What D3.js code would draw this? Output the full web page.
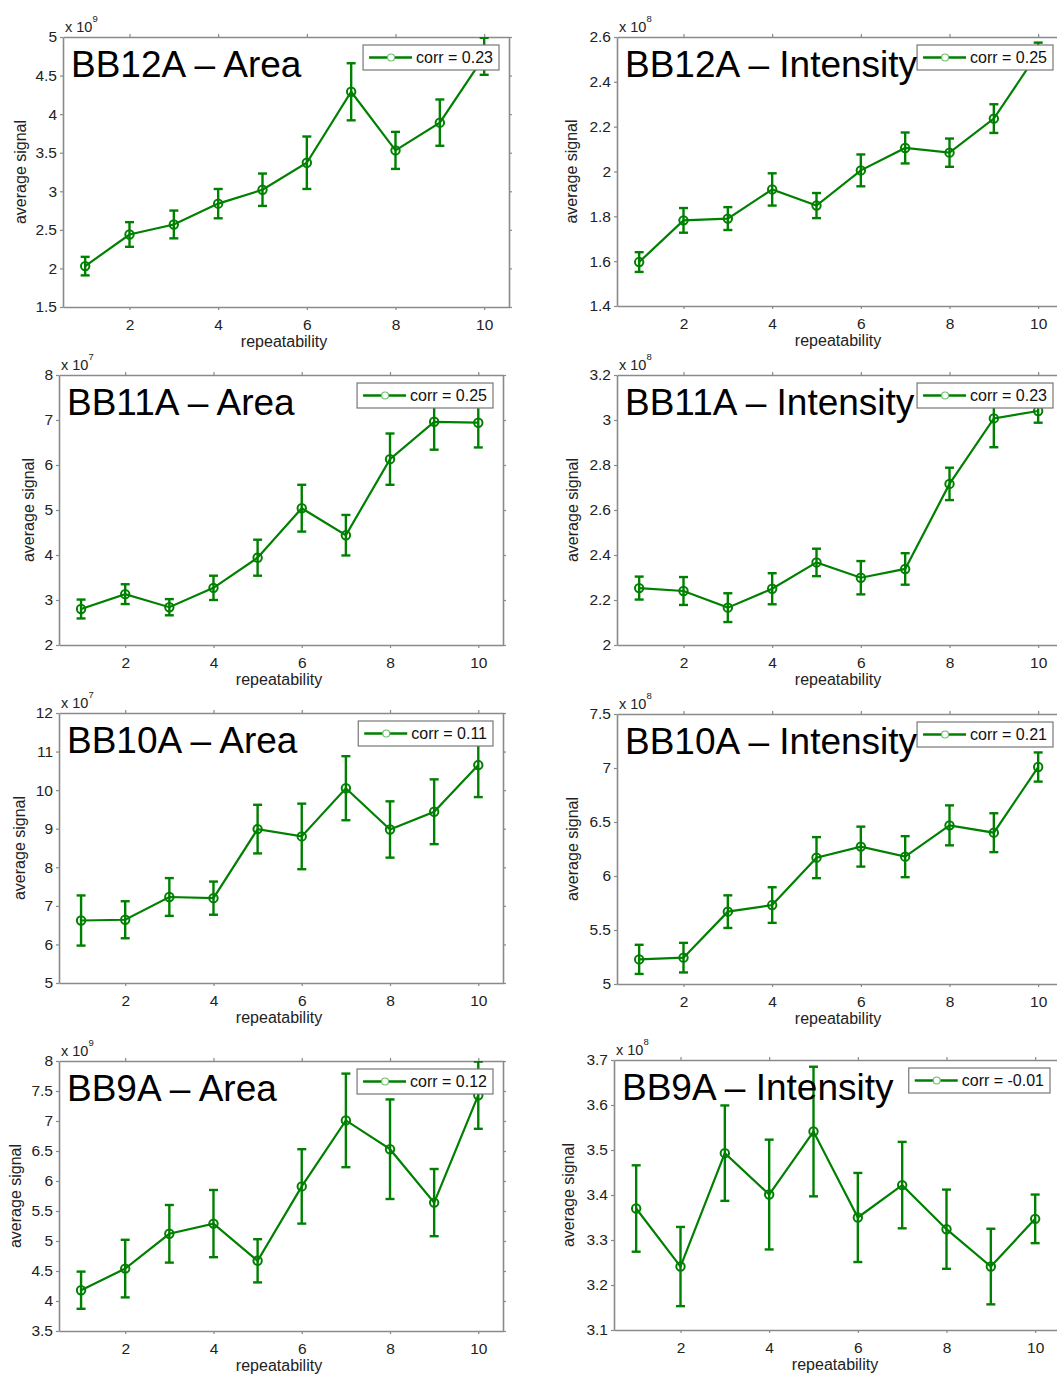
<!DOCTYPE html>
<html>
<head>
<meta charset="utf-8">
<script src="https://cdn.jsdelivr.net/npm/d3@7"></script>
<style>
  html, body { margin: 0; padding: 0; background: #fff; }
  svg { display: block; font-family: "Liberation Sans", Arial, Helvetica, sans-serif; }
</style>
</head>
<body>
<svg id="chart" width="1057" height="1378"></svg>
<script>
// ---------------- data ----------------
const repeatability = [1, 2, 3, 4, 5, 6, 7, 8, 9, 10];
const xTickValues = [2, 4, 6, 8, 10];

const panelTitles = ["BB12A \u2013 Area", "BB12A \u2013 Intensity", "BB11A \u2013 Area", "BB11A \u2013 Intensity",
                     "BB10A \u2013 Area", "BB10A \u2013 Intensity", "BB9A \u2013 Area", "BB9A \u2013 Intensity"];
const corrLabels = ["corr = 0.23", "corr = 0.25", "corr = 0.25", "corr = 0.23",
                    "corr = 0.11", "corr = 0.21", "corr = 0.12", "corr = -0.01"];
const exponents = [9, 8, 7, 8, 7, 8, 9, 8];

// mean values (in units of 10^exponent) and error half-widths
const bb12aAreaMean = [2.03, 2.44, 2.57, 2.84, 3.02, 3.37, 4.29, 3.53, 3.89, 4.75];
const bb12aAreaErr  = [0.12, 0.16, 0.18, 0.19, 0.21, 0.34, 0.37, 0.24, 0.30, 0.24];
const bb12aIntMean  = [1.596, 1.782, 1.790, 1.920, 1.848, 2.005, 2.105, 2.084, 2.236, 2.53];
const bb12aIntErr   = [0.044, 0.055, 0.051, 0.072, 0.056, 0.071, 0.069, 0.063, 0.064, 0.045];
const bb11aAreaMean = [2.80, 3.13, 2.84, 3.27, 3.94, 5.04, 4.44, 6.13, 6.96, 6.94];
const bb11aAreaErr  = [0.21, 0.22, 0.18, 0.27, 0.40, 0.52, 0.45, 0.57, 0.62, 0.55];
const bb11aIntMean  = [2.253, 2.240, 2.166, 2.250, 2.367, 2.299, 2.338, 2.716, 3.007, 3.040];
const bb11aIntErr   = [0.051, 0.062, 0.064, 0.069, 0.061, 0.074, 0.070, 0.072, 0.128, 0.052];
const bb10aAreaMean = [6.62, 6.64, 7.23, 7.20, 8.99, 8.80, 10.05, 8.98, 9.44, 10.65];
const bb10aAreaErr  = [0.65, 0.48, 0.49, 0.43, 0.63, 0.85, 0.83, 0.73, 0.84, 0.83];
const bb10aIntMean  = [5.228, 5.244, 5.670, 5.731, 6.170, 6.272, 6.179, 6.469, 6.401, 7.009];
const bb10aIntErr   = [0.135, 0.137, 0.151, 0.165, 0.19, 0.185, 0.19, 0.185, 0.18, 0.135];
const bb9aAreaMean  = [4.18, 4.54, 5.12, 5.29, 4.67, 5.91, 7.01, 6.53, 5.64, 7.43];
const bb9aAreaErr   = [0.31, 0.48, 0.48, 0.56, 0.36, 0.62, 0.78, 0.83, 0.56, 0.56];
const bb9aIntMean   = [3.370, 3.241, 3.493, 3.401, 3.541, 3.350, 3.422, 3.324, 3.241, 3.347];
const bb9aIntErr    = [0.096, 0.088, 0.106, 0.122, 0.144, 0.099, 0.096, 0.088, 0.084, 0.054];

// y tick labels for each panel
const yTicks12Area = ["1.5", "2", "2.5", "3", "3.5", "4", "4.5", "5"];
const yTicks12Int  = ["1.4", "1.6", "1.8", "2", "2.2", "2.4", "2.6"];
const yTicks11Area = ["2", "3", "4", "5", "6", "7", "8"];
const yTicks11Int  = ["2", "2.2", "2.4", "2.6", "2.8", "3", "3.2"];
const yTicks10Area = ["5", "6", "7", "8", "9", "10", "11", "12"];
const yTicks10Int  = ["5", "5.5", "6", "6.5", "7", "7.5"];
const yTicks9Area  = ["3.5", "4", "4.5", "5", "5.5", "6", "6.5", "7", "7.5", "8"];
const yTicks9Int   = ["3.1", "3.2", "3.3", "3.4", "3.5", "3.6", "3.7"];

const means = [bb12aAreaMean, bb12aIntMean, bb11aAreaMean, bb11aIntMean, bb10aAreaMean, bb10aIntMean, bb9aAreaMean, bb9aIntMean];
const errs  = [bb12aAreaErr, bb12aIntErr, bb11aAreaErr, bb11aIntErr, bb10aAreaErr, bb10aIntErr, bb9aAreaErr, bb9aIntErr];
const yTicks = [yTicks12Area, yTicks12Int, yTicks11Area, yTicks11Int, yTicks10Area, yTicks10Int, yTicks9Area, yTicks9Int];

// ---------------- layout (pixels) ----------------
const layout = [
  {left: 63,  top: 37,   w: 446, h: 270, ylab: 20},
  {left: 617, top: 37,   w: 446, h: 269, ylab: 571},
  {left: 59,  top: 375,  w: 444, h: 270, ylab: 28},
  {left: 617, top: 375,  w: 446, h: 270, ylab: 572},
  {left: 59,  top: 713,  w: 444, h: 270, ylab: 19},
  {left: 617, top: 714,  w: 446, h: 270, ylab: 572},
  {left: 59,  top: 1061, w: 444, h: 270, ylab: 15},
  {left: 614, top: 1060, w: 446, h: 270, ylab: 568}
];

const GREEN = "#008000";
const AXIS = "#8a8a8a";
const TEXT = "#222";
const FONT = "'Liberation Sans', Arial, sans-serif";

const svg = d3.select("#chart");

layout.forEach((L, i) => {
  const tickVals = yTicks[i].map(Number);
  const x = d3.scaleLinear().domain([0.5, 10.56]).range([L.left, L.left + L.w]);
  const y = d3.scaleLinear().domain(d3.extent(tickVals)).range([L.top + L.h, L.top]);
  const g = svg.append("g");

  const clipId = "clip" + i;
  svg.append("clipPath").attr("id", clipId)
    .append("rect").attr("x", L.left).attr("y", L.top).attr("width", L.w).attr("height", L.h);

  // axes (box with ticks on all sides)
  const fmt = d => yTicks[i][tickVals.indexOf(d)];
  const axL = g.append("g").attr("transform", `translate(${L.left},0)`)
    .call(d3.axisLeft(y).tickValues(tickVals).tickFormat(fmt).tickSizeInner(3).tickSizeOuter(0).tickPadding(3));
  const axR = g.append("g").attr("transform", `translate(${L.left + L.w},0)`)
    .call(d3.axisRight(y).tickValues(tickVals).tickFormat("").tickSizeInner(3).tickSizeOuter(0));
  const axB = g.append("g").attr("transform", `translate(0,${L.top + L.h})`)
    .call(d3.axisBottom(x).tickValues(xTickValues).tickFormat(d3.format("d")).tickSizeInner(3).tickSizeOuter(0).tickPadding(9));
  const axT = g.append("g").attr("transform", `translate(0,${L.top})`)
    .call(d3.axisTop(x).tickValues(xTickValues).tickFormat("").tickSizeInner(3).tickSizeOuter(0));
  [axL, axR, axB, axT].forEach(a => {
    a.select(".domain").attr("stroke", AXIS).attr("stroke-width", 1.6);
    a.selectAll(".tick line").attr("stroke", AXIS).attr("stroke-width", 1.2);
    a.selectAll(".tick text").attr("fill", TEXT).attr("font-size", 15.5).attr("font-family", FONT);
  });

  // exponent label
  const ex = g.append("text").attr("x", L.left + 2).attr("y", L.top - 5)
    .attr("font-size", 14.5).attr("fill", TEXT);
  ex.append("tspan").text("x 10");
  ex.append("tspan").attr("dy", -10).attr("font-size", 9.5).text(exponents[i]);

  // axis labels
  g.append("text").attr("x", L.left + L.w / 2 - 2).attr("y", L.top + L.h + 40)
    .attr("text-anchor", "middle").attr("font-size", 16).attr("fill", TEXT).text("repeatability");
  g.append("text").attr("transform", `translate(${L.ylab},${L.top + L.h / 2}) rotate(-90)`)
    .attr("dy", "0.35em").attr("text-anchor", "middle").attr("font-size", 16).attr("fill", TEXT)
    .text("average signal");

  // data
  const pts = repeatability.map((r, k) => ({r, m: means[i][k], e: errs[i][k]}));
  const plot = g.append("g").attr("clip-path", `url(#${clipId})`);
  const eb = plot.append("g").attr("stroke", GREEN).attr("stroke-width", 2.4).attr("fill", "none");
  pts.forEach(p => {
    const cx = x(p.r), y0 = y(p.m - p.e), y1 = y(p.m + p.e);
    eb.append("line").attr("x1", cx).attr("x2", cx).attr("y1", y0).attr("y2", y1);
    eb.append("line").attr("x1", cx - 4.5).attr("x2", cx + 4.5).attr("y1", y0).attr("y2", y0);
    eb.append("line").attr("x1", cx - 4.5).attr("x2", cx + 4.5).attr("y1", y1).attr("y2", y1);
  });
  plot.append("path").datum(pts)
    .attr("d", d3.line().x(p => x(p.r)).y(p => y(p.m)))
    .attr("fill", "none").attr("stroke", GREEN).attr("stroke-width", 2.2);
  plot.selectAll("circle.pt").data(pts).join("circle").attr("class", "pt")
    .attr("cx", p => x(p.r)).attr("cy", p => y(p.m)).attr("r", 4.2)
    .attr("fill", "none").attr("stroke", GREEN).attr("stroke-width", 2);

  // legend
  const lg = g.append("g");
  const rect = lg.append("rect").attr("fill", "#fff").attr("stroke", "#777").attr("stroke-width", 1.2);
  const lt = lg.append("text").attr("font-size", 16).attr("fill", "#111").text(corrLabels[i]);
  const tw = lt.node().getComputedTextLength();
  const bw = 53 + tw + 6, bh = 25;
  const bx = L.left + L.w - 10 - bw, by = L.top + 8;
  rect.attr("x", bx).attr("y", by).attr("width", bw).attr("height", bh);
  lt.attr("x", bx + 53).attr("y", by + bh / 2).attr("dy", "0.36em");
  lg.append("line").attr("x1", bx + 6).attr("x2", bx + 49).attr("y1", by + bh / 2).attr("y2", by + bh / 2)
    .attr("stroke", GREEN).attr("stroke-width", 2.6);
  lg.append("circle").attr("cx", bx + 28).attr("cy", by + bh / 2).attr("r", 3.5)
    .attr("fill", "#fff").attr("stroke", "#6cc06c").attr("stroke-width", 1.2);

  // title
  g.append("text").attr("x", L.left + 8).attr("y", L.top + 40)
    .attr("font-size", 37).attr("fill", "#000").text(panelTitles[i]);
});
</script>
</body>
</html>
